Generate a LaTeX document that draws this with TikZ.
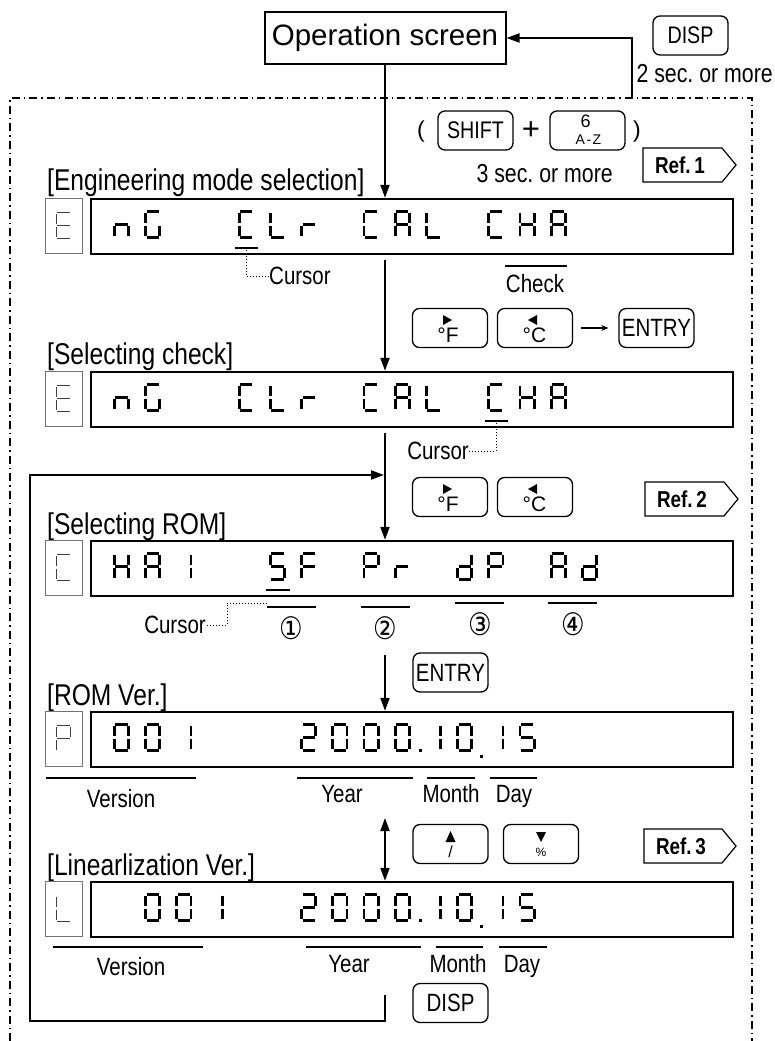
\documentclass[tikz,border=0pt]{standalone}
\usepackage{fontspec}
\usepackage{graphicx}
\setmainfont{Liberation Sans}
\newfontfamily\rf{Liberation Sans}
\newfontfamily\nf[FakeStretch=0.82]{Liberation Sans}
\newfontfamily\djv{DejaVu Sans}
\usetikzlibrary{arrows.meta}
\frenchspacing
\newcommand\sgA[2]{\draw[seg] ({#1+2.4},{#2+1.4}) -- ({#1+14.6},{#2+1.4});}
\newcommand\sgB[2]{\draw[seg] ({#1+15.6},{#2+2.8}) -- ({#1+15.6},{#2+13.3});}
\newcommand\sgC[2]{\draw[seg] ({#1+15.6},{#2+15.7}) -- ({#1+15.6},{#2+26.2});}
\newcommand\sgD[2]{\draw[seg] ({#1+2.4},{#2+27.6}) -- ({#1+14.6},{#2+27.6});}
\newcommand\sgE[2]{\draw[seg] ({#1+1.4},{#2+15.7}) -- ({#1+1.4},{#2+26.2});}
\newcommand\sgF[2]{\draw[seg] ({#1+1.4},{#2+2.8}) -- ({#1+1.4},{#2+13.3});}
\newcommand\sgG[2]{\draw[seg] ({#1+2.4},{#2+14.5}) -- ({#1+14.6},{#2+14.5});}
\newcommand\sevseg[3]{\foreach \s in #3 {\csname sg\s\endcsname{#1}{#2}}}
\newcommand\gk[3]{\pgfmathsetmacro\gx{113+31.2*#1}\sevseg{\gx}{#2}{#3}}
\def\sglN{C,E,G}
\def\sglG{A,F,E,D,C}
\def\sglC{A,F,E,D}
\def\sglL{F,E,D}
\def\sglR{E,G}
\def\sglA{A,B,C,E,F,G}
\def\sglH{B,C,E,F,G}
\def\sglE{A,F,G,E,D}
\def\sglI{B,C}
\def\sglS{A,F,G,C,D}
\def\sglF{A,F,G,E}
\def\sglP{A,B,F,G,E}
\def\sglD{B,C,D,E,G}
\def\sglO{A,B,C,D,E,F}
\def\sglT{A,B,G,E,D}
\begin{document}
\frenchspacing
\begin{tikzpicture}[x=1pt,y=-1pt,
  conn/.style={line width=2pt,-{Triangle[length=13pt,width=9pt]}},
  dconn/.style={line width=2pt,{Triangle[length=13pt,width=9pt]}-{Triangle[length=13pt,width=9pt]}},
  disp/.style={draw,line width=2.4pt,minimum width=642pt,minimum height=55pt,inner sep=0},
  sbox/.style={draw=black!55,line width=1pt,minimum width=37pt,minimum height=55pt,inner sep=0},
  key/.style={draw,rounded corners=7pt,line width=1.3pt,minimum width=75pt,minimum height=39pt,inner sep=0},
  keyt/.style={key,font=\nf\fontsize{25}{25}\selectfont},
  ktx/.style={inner sep=0,font=\rf\fontsize{21}{21}\selectfont},
  seg/.style={line width=2.9pt},
  lbl/.style={anchor=base west,inner sep=0,font=\nf\fontsize{30}{32}\selectfont},
  sml/.style={inner sep=0,font=\nf\fontsize{25}{27}\selectfont},
  secs/.style={anchor=base east,inner sep=0,font=\nf\fontsize{26}{26}\selectfont},
  ovl/.style={line width=2.2pt},
  cur/.style={line width=2.6pt},
  dotl/.style={dotted,line width=1pt},
  frame/.style={line width=1.4pt,dash pattern=on 8pt off 4pt on 1.5pt off 4pt},
  refb/.style={line width=1.2pt},
  reft/.style={inner sep=0,font=\nf\bfseries\fontsize{23}{23}\selectfont},
  circ/.style={inner sep=0,font=\djv\fontsize{31}{31}\selectfont},
]
\useasboundingbox (0,0) rectangle (775,1041);
% dash-dot frame
\draw[frame] (10,1041) -- (10,98) -- (752,98) -- (752,1041);

% top
\node[draw,line width=2pt,minimum width=241pt,minimum height=52pt,inner sep=0,font=\rf\fontsize{29.5}{32}\selectfont] (op) at (385,38) {Operation screen};
\node[key,font=\nf\fontsize{24}{24}\selectfont] (kdisp1) at (690.5,35.5) {DISP};
\node[secs] (t2s) at (773,82) {2 sec. or more};
\coordinate (rtop) at (632,99);
\draw[conn] (rtop) |- (op.east);

\node[inner sep=0,font=\rf\fontsize{23}{23}\selectfont] (lp) at (421,132) {(};
\node[key,font=\nf\fontsize{24}{24}\selectfont] (kshift) at (475.5,130.5) {SHIFT};
\node[inner sep=0,font=\rf\fontsize{31}{31}\selectfont] (plus) at (531,131) {+};
\node[key] (kaz) at (587.5,130.5) {};
\node[inner sep=0,font=\rf\fontsize{18}{18}\selectfont] (t6) at ([shift={(-2pt,9pt)}]kaz.center) {6};
\node[inner sep=0,font=\rf\fontsize{14}{14}\selectfont] (taz) at ([shift={(1pt,-9pt)}]kaz.center) {A\kern1.5pt-\kern1.5ptZ};
\node[inner sep=0,font=\rf\fontsize{23}{23}\selectfont] (rp) at (637,132) {)};
\node[secs] (t3s) at (613,182) {3 sec. or more};
\draw[refb] (643,148) -- (722,148) -- (736,165) -- (722,182) -- (643,182) -- cycle;
\node[reft] (r1) at (680,165) {Ref.\,1};

% row 1
\node[lbl] (l1) at (47,190) {[Engineering mode selection]};
\node[disp] (d1) at (412,226.5) {};
\node[sbox] (s1) at (63.5,226) {};
\draw[conn] (op.south) -- (op.south |- d1.north);
\gk{0}{210}{\sglN}\gk{1}{210}{\sglG}
\gk{4}{210}{\sglC}\gk{5}{210}{\sglL}\gk{6}{210}{\sglR}
\gk{8}{210}{\sglC}\gk{9}{210}{\sglA}\gk{10}{210}{\sglL}
\gk{12}{210}{\sglC}\gk{13}{210}{\sglH}\gk{14}{210}{\sglA}
\draw[cur] (235,248) -- (258,248);
\node[sml,anchor=west] (c1) at (269,276) {Cursor};
\draw[dotl] (246,250) -- (246,276) -- (c1.west);
\draw[ovl] (505,266) -- (567,266);
\node[sml,anchor=base] (chk) at (535,292) {Check};

% row 2
\node[key] (kf2) at (450,328) {};
\fill ([shift={(-7pt,13pt)}]kf2.center) -- ++(9pt,-5pt) -- ++(-9pt,-5pt) -- cycle;
\node[ktx] (tf2) at ([shift={(-2pt,-7.5pt)}]kf2.center) {°F};
\node[key] (kc2) at (535,328) {};
\fill ([shift={(2pt,13pt)}]kc2.center) -- ++(-9pt,-5pt) -- ++(9pt,-5pt) -- cycle;
\node[ktx] (tc2) at ([shift={(-0.5pt,-7.5pt)}]kc2.center) {°C};
\node[keyt] (ke2) at (656.5,328) {ENTRY};
\draw[line width=1.3pt,-{Stealth[length=7pt,width=6pt]}] ([xshift=8pt]kc2.east) -- ([xshift=-10pt]ke2.west);
\node[lbl] (l2) at (47,364) {[Selecting check]};
\node[disp] (d2) at (412,399.5) {};
\node[sbox] (s2) at (63.5,399) {};
\coordinate (a2) at (385,260);
\draw[conn] (a2) -- (a2 |- d2.north);
\gk{0}{383}{\sglN}\gk{1}{383}{\sglG}
\gk{4}{383}{\sglC}\gk{5}{383}{\sglL}\gk{6}{383}{\sglR}
\gk{8}{383}{\sglC}\gk{9}{383}{\sglA}\gk{10}{383}{\sglL}
\gk{12}{383}{\sglC}\gk{13}{383}{\sglH}\gk{14}{383}{\sglA}
\draw[cur] (485,421) -- (508,421);
\node[sml,anchor=east] (c2) at (469,451) {Cursor};
\draw[dotl] (496,423) -- (496,451) -- (c2.east);

% row 3
\coordinate (a3) at (385,433);
\node[key] (kf3) at (450,497) {};
\fill ([shift={(-7pt,13pt)}]kf3.center) -- ++(9pt,-5pt) -- ++(-9pt,-5pt) -- cycle;
\node[ktx] (tf3) at ([shift={(-2pt,-7.5pt)}]kf3.center) {°F};
\node[key] (kc3) at (535,497) {};
\fill ([shift={(2pt,13pt)}]kc3.center) -- ++(-9pt,-5pt) -- ++(9pt,-5pt) -- cycle;
\node[ktx] (tc3) at ([shift={(-0.5pt,-7.5pt)}]kc3.center) {°C};
\draw[refb] (645,482) -- (724,482) -- (738,499) -- (724,516) -- (645,516) -- cycle;
\node[reft] (r2) at (682,499) {Ref.\,2};
\node[lbl] (l3) at (47,534) {[Selecting ROM]};
\node[disp] (d3) at (412,568.5) {};
\node[sbox] (s3) at (63.5,568) {};
\draw[conn] (a3) -- (a3 |- d3.north);
\gk{0}{552}{\sglH}\gk{1}{552}{\sglA}\gk{2}{552}{\sglI}
\gk{5}{552}{\sglS}\gk{6}{552}{\sglF}
\gk{8}{552}{\sglP}\gk{9}{552}{\sglR}
\gk{11}{552}{\sglD}\gk{12}{552}{\sglP}
\gk{14}{552}{\sglA}\gk{15}{552}{\sglD}
\draw[cur] (266,590) -- (290,590);
\node[sml,anchor=east] (c3) at (206,625) {Cursor};
\draw[dotl] (267,603) -- (227,603) -- (227,625) -- (c3.east);
\draw[ovl] (267,607) -- (316,607);
\draw[ovl] (361,607) -- (410,607);
\draw[ovl] (455,603) -- (504,603);
\draw[ovl] (548,603) -- (597,603);
\node[circ] (n1) at (291,628) {\scalebox{0.85}[1]{①}};
\node[circ] (n2) at (385,628) {\scalebox{0.85}[1]{②}};
\node[circ] (n3) at (480,624) {\scalebox{0.85}[1]{③}};
\node[circ] (n4) at (573,624) {\scalebox{0.85}[1]{④}};

% row 4
\coordinate (a4) at (385,655);
\node[keyt] (ke4) at (450.5,672.5) {ENTRY};
\node[lbl] (l4) at (47,705) {[ROM Ver.]};
\node[disp] (d4) at (412,739.5) {};
\node[sbox] (s4) at (63.5,739) {};
\draw[conn] (a4) -- (a4 |- d4.north);
\gk{0}{723}{\sglO}\gk{1}{723}{\sglO}\gk{2}{723}{\sglI}
\gk{6}{723}{\sglT}\gk{7}{723}{\sglO}\gk{8}{723}{\sglO}\gk{9}{723}{\sglO}
\gk{10}{723}{\sglI}\gk{11}{723}{\sglO}\gk{12}{723}{\sglI}\gk{13}{723}{\sglS}
\fill (418.5,749) rectangle (421.5,752);
\fill (479.5,755) rectangle (482.5,758);
\draw[ovl] (46,778) -- (196,778);
\draw[ovl] (297,778) -- (413,778);
\draw[ovl] (427,778) -- (475,778);
\draw[ovl] (490,778) -- (537,778);
\node[sml,anchor=base] (v4) at (121,807) {Version};
\node[sml,anchor=base] (y4) at (342,802) {Year};
\node[sml,anchor=base] (m4) at (451,802) {Month};
\node[sml,anchor=base] (dy4) at (514,802) {Day};

% row 5
\coordinate (a5) at (385,818);
\node[key] (ku5) at (450.5,844) {};
\fill ([shift={(-5pt,2pt)}]ku5.center) -- ++(10pt,0pt) -- ++(-5pt,11pt) -- cycle;
\node[inner sep=0,font=\rf\fontsize{16}{16}\selectfont] (tu5) at ([shift={(0pt,-8pt)}]ku5.center) {/};
\node[key] (kd5) at (541,844) {};
\fill ([shift={(-5pt,12pt)}]kd5.center) -- ++(10pt,0pt) -- ++(-5pt,-10pt) -- cycle;
\node[inner sep=0,font=\rf\fontsize{12}{12}\selectfont] (td5) at ([shift={(0pt,-8pt)}]kd5.center) {\%};
\draw[refb] (644,829) -- (722,829) -- (736,846) -- (722,863) -- (644,863) -- cycle;
\node[reft] (r3) at (681,846) {Ref.\,3};
\node[lbl] (l5) at (47,875) {[Linearlization Ver.]};
\node[disp] (d5) at (412,909.5) {};
\node[sbox] (s5) at (63.5,909) {};
\draw[dconn] (a5) -- (a5 |- d5.north);
\gk{1}{893}{\sglO}\gk{2}{893}{\sglO}\gk{3}{893}{\sglI}
\gk{6}{893}{\sglT}\gk{7}{893}{\sglO}\gk{8}{893}{\sglO}\gk{9}{893}{\sglO}
\gk{10}{893}{\sglI}\gk{11}{893}{\sglO}\gk{12}{893}{\sglI}\gk{13}{893}{\sglS}
\fill (418.5,919) rectangle (421.5,922);
\fill (479.5,925) rectangle (482.5,928);
\draw[ovl] (53,947) -- (203,947);
\draw[ovl] (306,947) -- (421,947);
\draw[ovl] (436,947) -- (483,947);
\draw[ovl] (499,947) -- (547,947);
\node[sml,anchor=base] (v5) at (131,975) {Version};
\node[sml,anchor=base] (y5) at (349,972) {Year};
\node[sml,anchor=base] (m5) at (458,972) {Month};
\node[sml,anchor=base] (dy5) at (522,972) {Day};

% small box glyphs
\begin{scope}[seg/.style={line width=1.6pt,black!75}]
\sevseg{55}{211}{\sglE}
\sevseg{55}{384}{\sglE}
\sevseg{55}{553}{\sglC}
\sevseg{55}{724}{\sglP}
\sevseg{55}{894}{\sglL}
\end{scope}

% bottom loop
\node[keyt] (kdisp2) at (450.5,1003) {DISP};
\coordinate (lb) at (385,995);
\draw[conn] (lb) |- (30,1021) |- (384,475);
\end{tikzpicture}
\end{document}
